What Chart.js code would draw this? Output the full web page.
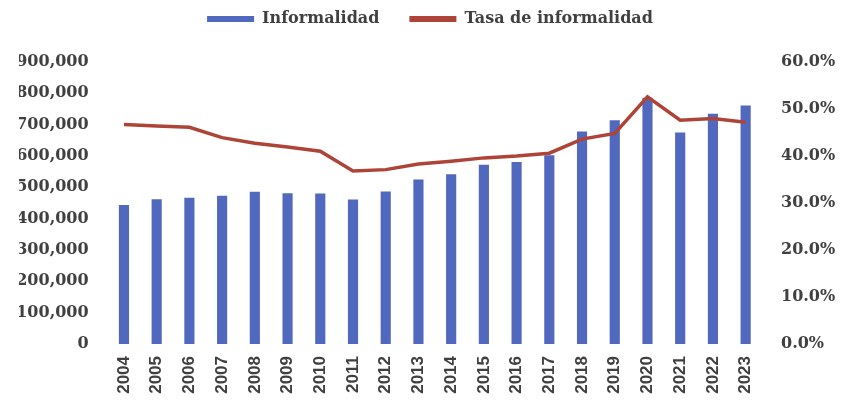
<!DOCTYPE html>
<html>
<head>
<meta charset="utf-8">
<script src="https://cdn.jsdelivr.net/npm/chart.js@4/dist/chart.umd.min.js"></script>
<style>
  html, body { margin: 0; padding: 0; background: #ffffff; }
  #wrap { width: 841px; height: 400px; position: relative; }
</style>
</head>
<body>
<div id="wrap"><canvas id="c" width="841" height="400"></canvas></div>
<script>
const years = ['2004','2005','2006','2007','2008','2009','2010','2011','2012','2013','2014','2015','2016','2017','2018','2019','2020','2021','2022','2023'];
const informalidad = [444000, 462000, 467000, 473000, 486000, 481000, 480000, 461000, 487000, 525000, 542000, 572000, 581000, 602000, 678000, 714000, 786000, 675000, 735000, 761000];
const tasaInformalidad = [46.7, 46.4, 46.1, 43.9, 42.7, 41.9, 41.0, 36.8, 37.1, 38.3, 38.9, 39.6, 40.0, 40.6, 43.6, 44.8, 52.6, 47.6, 48.0, 47.2];
const leftTicks = [0, 100000, 200000, 300000, 400000, 500000, 600000, 700000, 800000, 900000];
const rightTicks = [0, 10, 20, 30, 40, 50, 60];

const axisFont = { family: 'DejaVu Serif', weight: 'bold', size: 16 };
const textColor = '#404040';

const legendSpacer = {
  id: 'legendSpacer',
  beforeInit(chart) {
    const origFit = chart.legend.fit;
    chart.legend.fit = function () {
      origFit.call(this);
      this.height += 25;
    };
  }
};

new Chart(document.getElementById('c'), {
  type: 'bar',
  plugins: [legendSpacer],
  data: {
    labels: years,
    datasets: [
      {
        type: 'bar',
        label: 'Informalidad',
        data: informalidad,
        backgroundColor: '#5068bd',
        borderWidth: 0,
        barPercentage: 0.31,
        categoryPercentage: 1.0,
        yAxisID: 'y',
        order: 2
      },
      {
        type: 'line',
        label: 'Tasa de informalidad',
        data: tasaInformalidad,
        borderColor: '#ae4438',
        backgroundColor: '#ae4438',
        borderWidth: 3.5,
        pointRadius: 0,
        tension: 0,
        yAxisID: 'y1',
        order: 1
      }
    ]
  },
  options: {
    responsive: false,
    animation: false,
    layout: { padding: { left: 19, right: 0, top: -19, bottom: 0 } },
    plugins: {
      tooltip: { enabled: false },
      legend: {
        position: 'top',
        labels: {
          font: axisFont,
          color: textColor,
          boxWidth: 47,
          boxHeight: 6,
          padding: 30,
          sort: (a, b) => a.datasetIndex - b.datasetIndex,
          generateLabels: (chart) => chart.data.datasets.map((ds, i) => ({
            text: ds.label,
            fillStyle: ds.backgroundColor,
            strokeStyle: ds.backgroundColor,
            lineWidth: 0,
            fontColor: textColor,
            datasetIndex: i,
            hidden: false
          }))
        }
      }
    },
    scales: {
      x: {
        offset: true,
        grid: { display: false, drawTicks: false },
        border: { display: false },
        ticks: {
          font: { family: 'Liberation Sans', weight: 'bold', size: 17 },
          color: textColor,
          minRotation: 90,
          maxRotation: 90,
          padding: 12,
          autoSkip: false
        },
        afterFit: (s) => { s.height = 56; }
      },
      y: {
        position: 'left',
        min: 0,
        max: 900000,
        grid: { display: false, drawTicks: false },
        border: { display: false },
        afterBuildTicks: (s) => { s.ticks = leftTicks.map(v => ({ value: v })); },
        ticks: {
          font: axisFont,
          color: textColor,
          padding: 19,
          callback: (v) => Number(v).toLocaleString('en-US')
        },
        afterFit: (s) => { s.width = 88.6; }
      },
      y1: {
        position: 'right',
        min: 0,
        max: 60,
        grid: { display: false, drawTicks: false },
        border: { display: false },
        afterBuildTicks: (s) => { s.ticks = rightTicks.map(v => ({ value: v })); },
        ticks: {
          font: axisFont,
          color: textColor,
          padding: 19,
          callback: (v) => Number(v).toFixed(1) + '%'
        },
        afterFit: (s) => { s.width = 79; }
      }
    }
  }
});
</script>
</body>
</html>
